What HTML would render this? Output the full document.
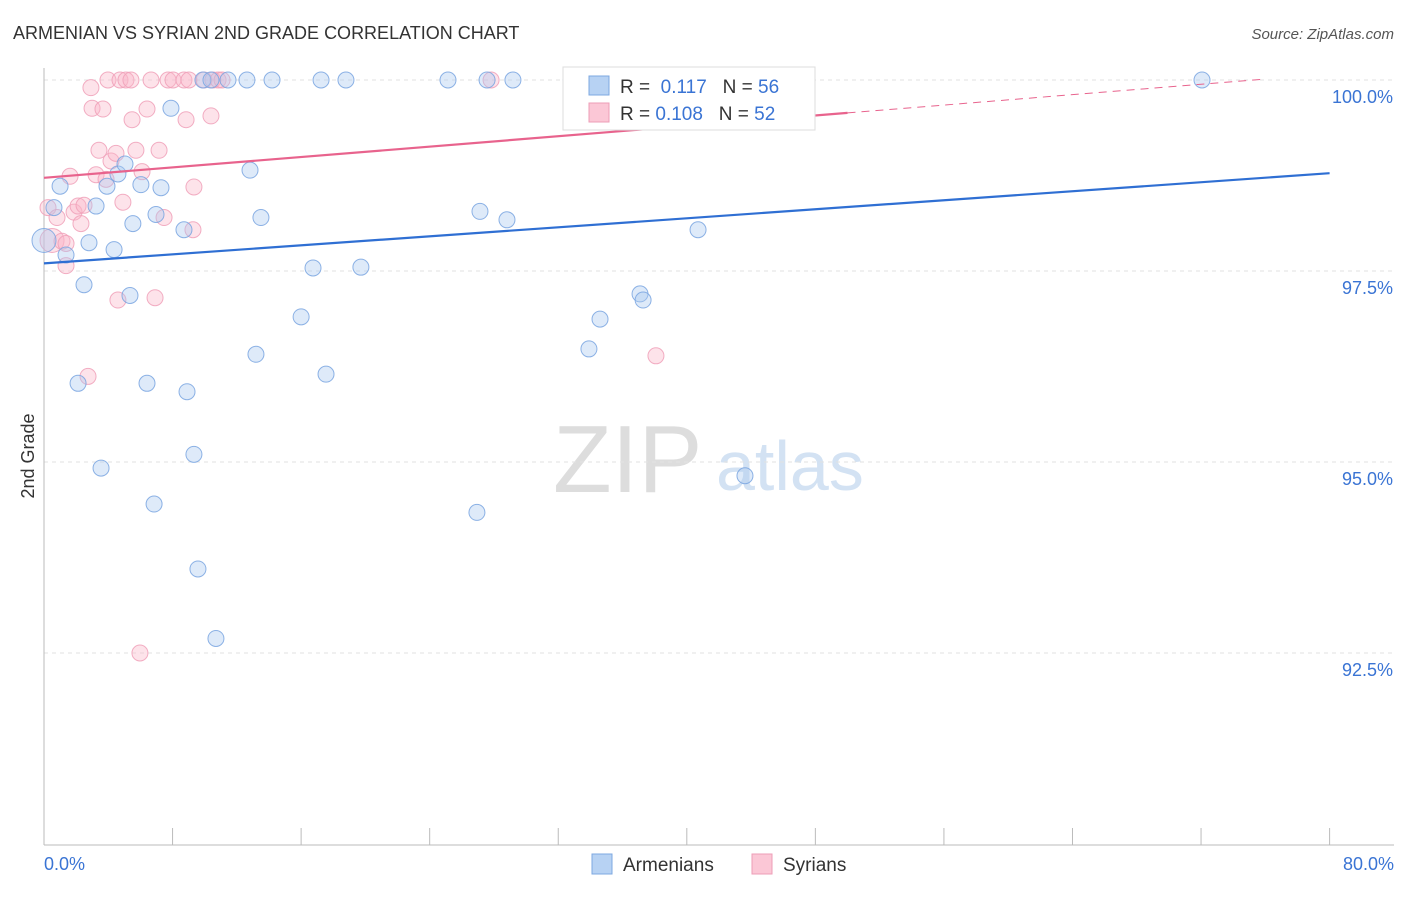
<!DOCTYPE html>
<html><head><meta charset="utf-8">
<style>
body{margin:0;background:#fff;font-family:"Liberation Sans",sans-serif;}
svg text{font-family:"Liberation Sans",sans-serif;}
</style></head>
<body>
<svg id="chart" width="1406" height="892" xmlns="http://www.w3.org/2000/svg">
<text x="13" y="39" font-size="18" fill="#333">ARMENIAN VS SYRIAN 2ND GRADE CORRELATION CHART</text>
<text x="1394" y="39" font-size="15" fill="#555" text-anchor="end" font-style="italic">Source: ZipAtlas.com</text>
<text x="553" y="492" font-size="96" fill="#ddd" font-family="Liberation Serif, serif">ZIP</text>
<text x="716" y="490" font-size="70" fill="#d3e2f3">atlas</text>
<text transform="translate(34,456) rotate(-90)" font-size="18" fill="#333" text-anchor="middle">2nd Grade</text>
<g id="grid"></g><g id="axes"></g><g id="marks"></g>
<g>
<rect x="563" y="67" width="252" height="63" fill="#fff" stroke="#ddd"/>
<rect x="589" y="76" width="20" height="19" fill="#b7d2f3" stroke="#7ea8e0"/>
<rect x="589" y="103" width="20" height="19" fill="#fbc7d6" stroke="#ee9db7"/>
<text x="620" y="93" font-size="19" fill="#333">R = <tspan fill="#3a74d4">&#160;0.117</tspan>&#160;&#160;&#160;N = <tspan fill="#3a74d4">56</tspan></text>
<text x="620" y="120" font-size="19" fill="#333">R = <tspan fill="#3a74d4">0.108</tspan>&#160;&#160;&#160;N = <tspan fill="#3a74d4">52</tspan></text>
</g>
<g>
<rect x="592" y="854" width="20" height="20" fill="#b7d2f3" stroke="#7ea8e0"/>
<text x="623" y="871" font-size="19" fill="#333">Armenians</text>
<rect x="752" y="854" width="20" height="20" fill="#fbc7d6" stroke="#ee9db7"/>
<text x="783" y="871" font-size="19" fill="#333">Syrians</text>
</g>
</svg>
<script>
const yTicks=[100,97.5,95,92.5];
const yTickLabels=["100.0%","97.5%","95.0%","92.5%"];
const xTickLabels=["0.0%","80.0%"];
const armX=[0,0.62,1,1.37,2.12,2.49,2.8,3.24,3.55,3.92,4.36,4.6,5.04,5.35,5.53,6.03,6.41,6.85,6.97,7.28,7.9,8.71,8.9,9.33,9.58,9.89,10.39,10.7,11.45,12.63,12.82,13.19,13.5,14.19,16,16.74,17.24,17.55,18.79,19.72,25.14,26.94,27.13,27.57,28.81,29.18,32.79,33.91,34.6,37.09,37.28,40.7,43.62,72.06];
const armY=[97.9,98.33,98.61,97.71,96.03,97.32,97.87,98.35,94.92,98.61,97.78,98.77,98.9,97.18,98.12,98.63,96.03,94.45,98.24,98.59,99.63,98.04,95.92,95.1,93.6,100,100,92.69,100,100,98.82,96.41,98.2,100,96.9,97.54,100,96.15,100,97.55,100,94.34,98.28,100,98.17,100,100,96.48,96.87,97.2,97.12,98.04,94.82,100];
const syrX=[0.25,0.5,0.81,1.12,1.37,1.62,1.87,2.12,2.3,2.49,2.74,2.92,2.99,3.24,3.42,3.67,3.86,3.98,4.17,4.48,4.6,4.73,4.91,5.1,5.41,5.48,5.72,6.1,6.41,6.66,6.91,7.16,7.47,7.72,8.03,8.71,8.84,9.02,9.27,9.33,9.96,10.39,10.51,10.83,11.08,27.82,38.08,47.1,5.97,1.37];
const syrY=[98.33,97.9,98.2,97.89,97.57,98.74,98.27,98.35,98.12,98.36,96.12,99.9,99.63,98.76,99.08,99.62,98.7,100,98.94,99.04,97.12,100,98.4,100,100,99.48,99.08,98.8,99.62,100,97.15,99.08,98.2,100,100,100,99.48,100,98.04,98.6,100,99.53,100,100,100,100,96.39,100,92.5,97.86];
const armLine=[97.6,98.78];
const syrLine=[98.72,99.57];
const x0=44,pxPer=16.07,yTop=80,pyPer=76.4;
const X=v=>x0+v*pxPer, Y=v=>yTop+(100-v)*pyPer;
const NS="http://www.w3.org/2000/svg";
function mk(t,a,p){const e=document.createElementNS(NS,t);for(const k in a)e.setAttribute(k,a[k]);p.appendChild(e);return e;}
const grid=document.getElementById('grid'),axes=document.getElementById('axes'),marks=document.getElementById('marks');
yTicks.forEach((t,i)=>{
 const l=mk('line',{x1:44,x2:1394,y1:Y(t),y2:Y(t),stroke:'#e2e2e2','stroke-dasharray':'4,4'},grid);
 
 
 const tx=mk('text',{x:1393,y:Y(t)+23,'font-size':18,fill:'#3a74d4','text-anchor':'end'},axes);
 tx.textContent=yTickLabels[i];
 
 
});
const ya=mk('line',{x1:44,x2:44,y1:68,y2:845,stroke:'#bbb'},axes);


const xa=mk('line',{x1:44,x2:1394,y1:845,y2:845,stroke:'#bbb'},axes);


for(let i=0;i<=10;i++){const t=mk('line',{x1:X(i*8),x2:X(i*8),y1:828,y2:845,stroke:'#bbb'},axes);
 
 }
[[0,'start',44],[80,'end',1394]].forEach((d,i)=>{const t=mk('text',{x:d[2],y:870,'font-size':18,fill:'#3a74d4','text-anchor':d[1]},axes);t.textContent=xTickLabels[i];
 
 });
function dots(xs,ys,fill,stroke,name){xs.forEach((x,i)=>{const c=mk('circle',{cx:X(x),cy:Y(ys[i]),r:(i==0&&name=='armenian-point')||(i==1&&name=='syrian-point')?12:8,fill:fill,'fill-opacity':0.38,stroke:stroke,'stroke-width':1,'stroke-opacity':0.85},marks);
 
 });}
dots(syrX,syrY,'#f9b6c9','#f0a0b8','syrian-point');
dots(armX,armY,'#a9c8ef','#79a4e0','armenian-point');
const bl=mk('line',{x1:X(0),y1:Y(armLine[0]),x2:X(80),y2:Y(armLine[1]),stroke:'#2f6fd3','stroke-width':2.2},marks);


const sl=(syrLine[1]-syrLine[0])/50;
const pl=mk('line',{x1:X(0),y1:Y(syrLine[0]),x2:X(50),y2:Y(syrLine[1]),stroke:'#e8638d','stroke-width':2.2},marks);


const pd=mk('line',{x1:X(50),y1:Y(syrLine[1]),x2:X(76),y2:Y(syrLine[0]+sl*76),stroke:'#e8638d','stroke-width':1,'stroke-dasharray':'8,6'},marks);


</script>
</body></html>
